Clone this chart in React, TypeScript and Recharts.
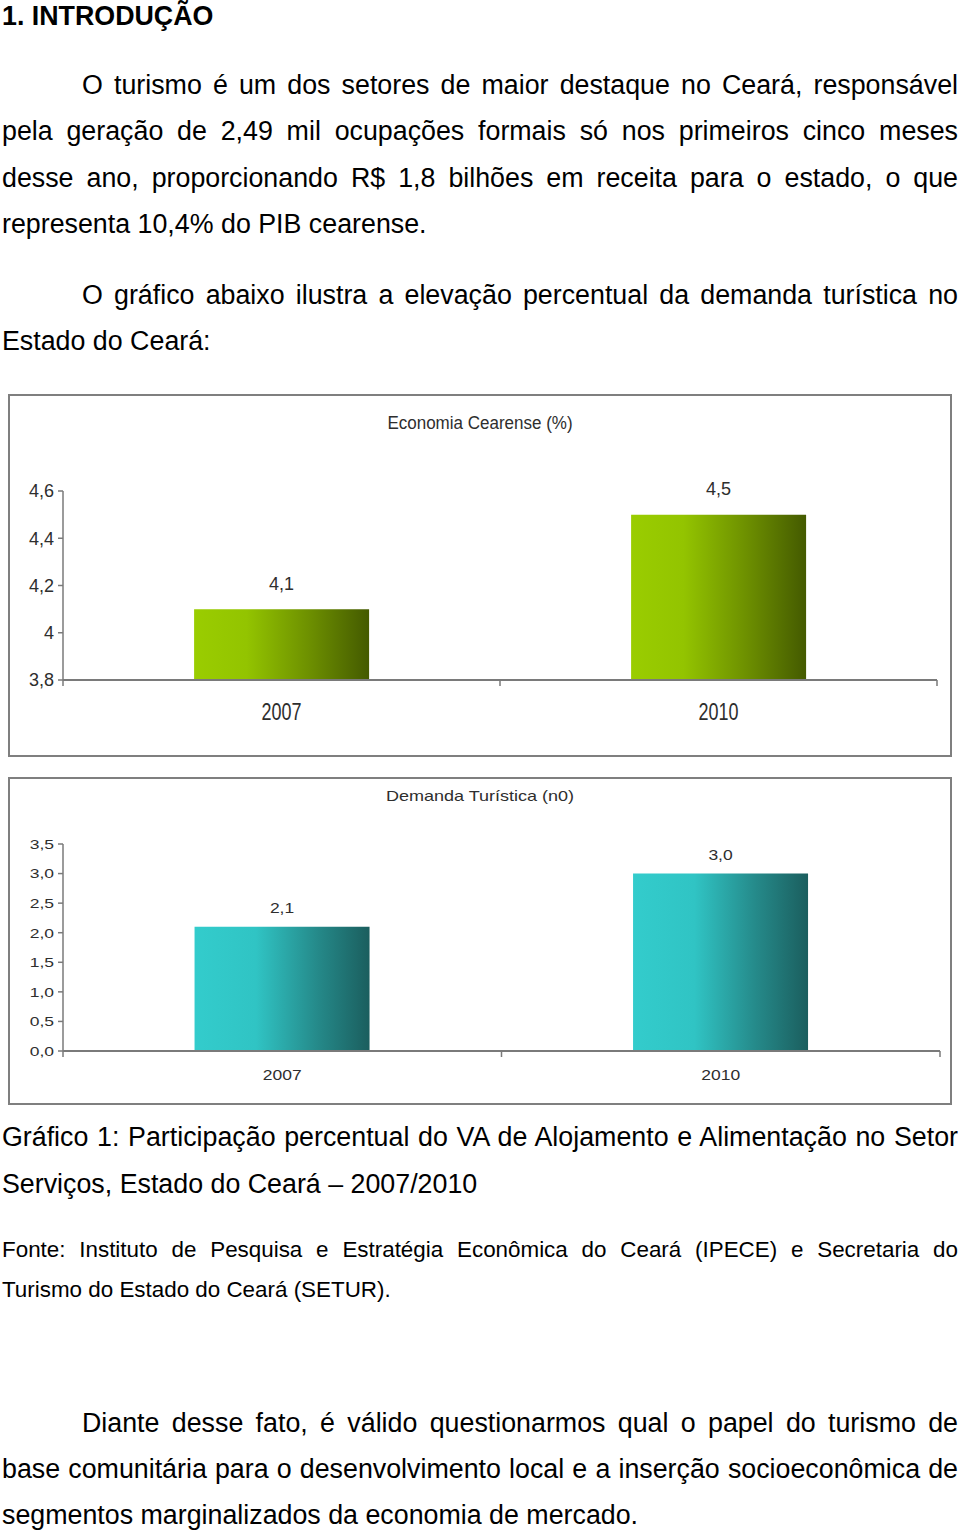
import React from 'react';
import { BarChart, Bar, XAxis, YAxis, LabelList } from 'recharts';

const years = ['2007', '2010'];
const economiaValues = [4.1, 4.5];
const economiaTicks = [3.8, 4, 4.2, 4.4, 4.6];
const demandaValues = [2.1, 3.0];
const demandaTicks = [0, 0.5, 1, 1.5, 2, 2.5, 3, 3.5];

const economiaData = years.map((year, i) => ({ year, value: economiaValues[i] }));
const demandaData = years.map((year, i) => ({ year, value: demandaValues[i] }));

const commaPlain = (v: number) => String(v).replace('.', ',');
const commaFixed = (v: number) => Number(v).toFixed(1).replace('.', ',');

const FONT = '"Liberation Sans", Arial, sans-serif';
const AXIS = '#7a7a7a';
const TXT = '#2e2e2e';

function makeXTick(labelCenter: number, fontSize: number, sy: number) {
  return function XTick(props: any) {
    const { x, y, payload, index } = props;
    const half = payload && payload.offset ? payload.offset : 0;
    return (
      <g>
        {index === 0 ? <line x1={x - half} x2={x - half} y1={y} y2={y + 6} stroke={AXIS} strokeWidth={1.5} /> : null}
        <line x1={x + half} x2={x + half} y1={y} y2={y + 6} stroke={AXIS} strokeWidth={1.5} />
        <text
          transform={`translate(${x} ${y + labelCenter}) scale(1 ${sy})`}
          x={0}
          y={0}
          dy="0.36em"
          textAnchor="middle"
          fill={TXT}
          fontSize={fontSize}
          fontFamily={FONT}
        >
          {payload.value}
        </text>
      </g>
    );
  };
}

function makeYTick(fmt: (v: number) => string, fontSize: number, sy: number) {
  return function YTick(props: any) {
    const { x, y, payload } = props;
    return (
      <text
        transform={`translate(${x} ${y}) scale(1 ${sy})`}
        x={0}
        y={0}
        dy="0.36em"
        textAnchor="end"
        fill={TXT}
        fontSize={fontSize}
        fontFamily={FONT}
      >
        {fmt(payload.value)}
      </text>
    );
  };
}

function makeValueLabel(fmt: (v: number) => string, centerOffset: number, fontSize: number, sy: number) {
  return function ValueLabel(props: any) {
    const { x, y, width, value } = props;
    return (
      <text
        transform={`translate(${Number(x) + Number(width) / 2} ${Number(y) - centerOffset}) scale(1 ${sy})`}
        x={0}
        y={0}
        dy="0.36em"
        textAnchor="middle"
        fill={TXT}
        fontSize={fontSize}
        fontFamily={FONT}
      >
        {fmt(Number(value))}
      </text>
    );
  };
}

type PanelProps = {
  top: number;
  height: number;
  title: string;
  titleTop: number;
  titleSize: number;
  titleScaleY: number;
  data: { year: string; value: number }[];
  domain: [number, number];
  ticks: number[];
  tickFmt: (v: number) => string;
  labelFmt: (v: number) => string;
  labelCenter: number;
  margin: { top: number; right: number; bottom: number; left: number };
  xLabelCenter: number;
  fontSize: number;
  yScale: number;
  xScale: number;
  labelScale: number;
  gradId: string;
  stops: [string, string][];
};

function Panel(p: PanelProps) {
  const XTick = makeXTick(p.xLabelCenter, p.fontSize, p.xScale);
  const YTick = makeYTick(p.tickFmt, p.fontSize, p.yScale);
  const ValueLabel = makeValueLabel(p.labelFmt, p.labelCenter, p.fontSize, p.labelScale);
  return (
    <div style={{ position: 'absolute', left: 8, top: p.top, width: 944, height: p.height, background: '#fff' }}>
      <BarChart
        width={944}
        height={p.height}
        data={p.data}
        margin={p.margin}
        barCategoryGap="30%"
        style={{ fontFamily: FONT }}
      >
        <defs>
          <linearGradient id={p.gradId} x1="0" y1="0" x2="1" y2="0">
            {p.stops.map(([off, col]) => (
              <stop key={off} offset={off} stopColor={col} />
            ))}
          </linearGradient>
        </defs>
        <YAxis
          width={55}
          domain={p.domain}
          ticks={p.ticks}
          interval={0}
          allowDataOverflow
          tickSize={5}
          tickMargin={4}
          axisLine={{ stroke: AXIS, strokeWidth: 1.5 }}
          tickLine={{ stroke: AXIS, strokeWidth: 1.5 }}
          tick={<YTick />}
        />
        <XAxis
          dataKey="year"
          height={30}
          interval={0}
          tickSize={0}
          tickMargin={0}
          tickLine={false}
          axisLine={{ stroke: AXIS, strokeWidth: 2 }}
          tick={<XTick />}
        />
        <Bar dataKey="value" fill={`url(#${p.gradId})`} isAnimationActive={false}>
          <LabelList dataKey="value" position="top" content={<ValueLabel />} />
        </Bar>
      </BarChart>
      <div
        style={{
          position: 'absolute',
          left: 0,
          top: p.titleTop,
          width: 944,
          textAlign: 'center',
          fontFamily: FONT,
          fontSize: p.titleSize,
          lineHeight: '20px',
          color: TXT,
          transform: `scaleY(${p.titleScaleY})`,
        }}
      >
        {p.title}
      </div>
      <div
        style={{
          position: 'absolute',
          left: 0,
          top: 0,
          width: 944,
          height: p.height,
          boxSizing: 'border-box',
          border: '2px solid #7f7f7f',
          pointerEvents: 'none',
        }}
      />
    </div>
  );
}

const BODY = 26.8;

function Line({ top, left, text, justify, size = BODY, bold = false }: { top: number; left: number; text: string; justify: boolean; size?: number; bold?: boolean }) {
  return (
    <div
      style={{
        position: 'absolute',
        left,
        top: top - 15,
        width: 958 - left,
        height: 30,
        lineHeight: '30px',
        fontFamily: FONT,
        fontSize: size,
        fontWeight: bold ? 'bold' : 'normal',
        color: '#000',
        whiteSpace: 'nowrap',
        textAlign: justify ? 'justify' : 'left',
        textAlignLast: justify ? 'justify' : 'left',
      } as React.CSSProperties}
    >
      {text}
    </div>
  );
}

export default function App() {
  return (
    <div style={{ position: 'absolute', left: 0, top: 0, width: 960, height: 1531, background: '#fff', overflow: 'hidden' }}>
      <Line top={16} left={2} text="1. INTRODUÇÃO" justify={false} bold />
      <Line top={85} left={82} text="O turismo é um dos setores de maior destaque no Ceará, responsável" justify />
      <Line top={131} left={2} text="pela geração de 2,49 mil ocupações formais só nos primeiros cinco meses" justify />
      <Line top={178} left={2} text="desse ano, proporcionando R$ 1,8 bilhões em receita para o estado, o que" justify />
      <Line top={224} left={2} text="representa 10,4% do PIB cearense." justify={false} />
      <Line top={295} left={82} text="O gráfico abaixo ilustra a elevação percentual da demanda turística no" justify />
      <Line top={341} left={2} text="Estado do Ceará:" justify={false} />

      <Panel
        top={394}
        height={363}
        title="Economia Cearense (%)"
        titleTop={19}
        titleSize={17}
        titleScaleY={1.1}
        data={economiaData}
        domain={[3.8, 4.6]}
        ticks={economiaTicks}
        tickFmt={commaPlain}
        labelFmt={commaPlain}
        labelCenter={26}
        margin={{ top: 97, right: 15, bottom: 47, left: 0 }}
        xLabelCenter={31}
        fontSize={18}
        yScale={1.0}
        xScale={1.35}
        labelScale={1.05}
        gradId="gradGreen"
        stops={[
          ['0', '#9acd00'],
          ['0.3', '#93c400'],
          ['0.65', '#6e9100'],
          ['1', '#445a00'],
        ]}
      />

      <Panel
        top={777}
        height={328}
        title="Demanda Turística (n0)"
        titleTop={9}
        titleSize={18}
        titleScaleY={0.82}
        data={demandaData}
        domain={[0, 3.5]}
        ticks={demandaTicks}
        tickFmt={commaFixed}
        labelFmt={commaFixed}
        labelCenter={19}
        margin={{ top: 67, right: 12, bottom: 24, left: 0 }}
        xLabelCenter={24}
        fontSize={17.5}
        yScale={0.78}
        xScale={0.8}
        labelScale={0.8}
        gradId="gradCyan"
        stops={[
          ['0', '#33cccc'],
          ['0.35', '#30c4c4'],
          ['0.7', '#258a8a'],
          ['1', '#1b5e5e'],
        ]}
      />

      <Line top={1137} left={2} text="Gráfico 1: Participação percentual do VA de Alojamento e Alimentação no Setor" justify />
      <Line top={1184} left={2} text="Serviços, Estado do Ceará – 2007/2010" justify={false} />
      <Line top={1250} left={2} size={22.4} text="Fonte: Instituto de Pesquisa e Estratégia Econômica do Ceará (IPECE) e Secretaria do" justify />
      <Line top={1290} left={2} size={22.4} text="Turismo do Estado do Ceará (SETUR)." justify={false} />
      <Line top={1423} left={82} text="Diante desse fato, é válido questionarmos qual o papel do turismo de" justify />
      <Line top={1469} left={2} text="base comunitária para o desenvolvimento local e a inserção socioeconômica de" justify />
      <Line top={1515} left={2} text="segmentos marginalizados da economia de mercado." justify={false} />
    </div>
  );
}
